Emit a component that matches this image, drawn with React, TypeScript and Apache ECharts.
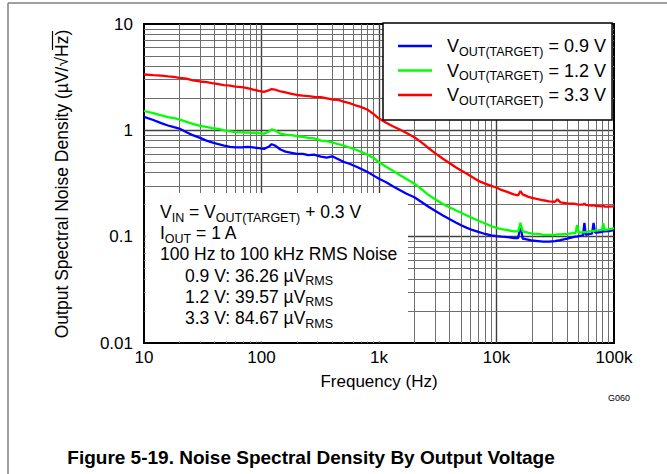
import React, { useEffect, useRef } from 'react';
import * as echarts from 'echarts';

// Frequency points (Hz) shared by all curves
const frequencies = [
  10, 12, 14, 16, 18, 20, 23, 26, 30, 34,
  38, 43, 48, 54, 60, 68, 76, 85, 95, 105,
  115, 122, 130, 145, 160, 180, 200, 225, 250, 280,
  320, 360, 400, 450, 500, 560, 630, 700, 800, 900,
  1000, 1150, 1300, 1500, 1700, 2000, 2300, 2600, 3000, 3500,
  4000, 4500, 5000, 5600, 6300, 7000, 8000, 9000, 10000, 11000,
  12500, 14000, 15300, 16000, 16700, 18500, 20000, 22500, 25000, 28000,
  31500, 33000, 35000, 40000, 45000, 47000, 48500, 50000, 54500, 56000,
  57500, 62000, 65000, 67000, 69000, 75000, 79000, 81000, 83000, 90000,
  100000,
];

// Noise density (uV/rtHz), VOUT(TARGET) = 0.9 V
const vout09 = [
  1.34, 1.25, 1.17, 1.11, 1.07, 1.04, 0.96, 0.9, 0.85, 0.8,
  0.77, 0.74, 0.72, 0.7, 0.69, 0.69, 0.7, 0.69, 0.68, 0.67,
  0.7, 0.74, 0.72, 0.66, 0.63, 0.615, 0.6, 0.6, 0.585, 0.59,
  0.565, 0.555, 0.57, 0.535, 0.505, 0.485, 0.46, 0.435, 0.405, 0.375,
  0.35, 0.325, 0.3, 0.275, 0.255, 0.235, 0.212, 0.193, 0.175, 0.158,
  0.146, 0.136, 0.128, 0.121, 0.115, 0.111, 0.106, 0.103, 0.101, 0.1,
  0.099, 0.097, 0.097, 0.129, 0.096, 0.094, 0.092, 0.091, 0.09, 0.09,
  0.091, 0.092, 0.093, 0.096, 0.099, 0.1, 0.1, 0.101, 0.103, 0.135,
  0.104, 0.106, 0.107, 0.135, 0.109, 0.11, 0.111, 0.112, 0.112, 0.113,
  0.115,
];

// VOUT(TARGET) = 1.2 V
const vout12 = [
  1.52, 1.45, 1.38, 1.33, 1.3, 1.27, 1.2, 1.15, 1.1, 1.08,
  1.05, 1.03, 1.0, 0.98, 0.96, 0.955, 0.95, 0.945, 0.94, 0.93,
  0.97, 1.02, 1.0, 0.93, 0.91, 0.9, 0.88, 0.87, 0.85, 0.84,
  0.8, 0.79, 0.77, 0.74, 0.72, 0.69, 0.66, 0.63, 0.59, 0.55,
  0.5, 0.455, 0.42, 0.38, 0.35, 0.315, 0.28, 0.25, 0.225, 0.203,
  0.188, 0.177, 0.168, 0.158, 0.149, 0.141, 0.133, 0.126, 0.121, 0.118,
  0.115, 0.112, 0.112, 0.135, 0.112, 0.109, 0.107, 0.106, 0.104, 0.104,
  0.104, 0.105, 0.105, 0.106, 0.108, 0.108, 0.129, 0.109, 0.11, 0.11,
  0.111, 0.112, 0.113, 0.113, 0.114, 0.115, 0.116, 0.134, 0.116, 0.117,
  0.12,
];

// VOUT(TARGET) = 3.3 V
const vout33 = [
  3.35, 3.3, 3.27, 3.22, 3.18, 3.12, 3.07, 2.95, 2.88, 2.84,
  2.78, 2.72, 2.66, 2.63, 2.58, 2.55, 2.5, 2.42, 2.35, 2.3,
  2.38, 2.44, 2.42, 2.32, 2.27, 2.2, 2.15, 2.12, 2.1, 2.06,
  2.05, 2.0, 1.95, 1.93, 1.86, 1.8, 1.72, 1.66, 1.56, 1.42,
  1.29, 1.18, 1.1, 1.02, 0.95, 0.86, 0.77, 0.69, 0.61, 0.54,
  0.49, 0.45, 0.42, 0.39, 0.36, 0.335, 0.315, 0.3, 0.29, 0.275,
  0.262, 0.25, 0.245, 0.268, 0.25, 0.238, 0.232, 0.226, 0.22, 0.215,
  0.213, 0.224, 0.21, 0.206, 0.204, 0.203, 0.201, 0.2, 0.2, 0.205,
  0.199, 0.197, 0.196, 0.198, 0.195, 0.194, 0.193, 0.195, 0.192, 0.192,
  0.193,
];

const seriesNames = ['VOUT(TARGET) = 0.9 V', 'VOUT(TARGET) = 1.2 V', 'VOUT(TARGET) = 3.3 V'];
const seriesColors = ['#0000ff', '#00ff00', '#ff0000'];
const seriesValues = [vout09, vout12, vout33];

const xTickLabels: Record<number, string> = { 1: '10', 2: '100', 3: '1k', 4: '10k', 5: '100k' };
const yTickLabels: Record<number, string> = { [-2]: '0.01', [-1]: '0.1', 0: '1', 1: '10' };

const gridDecadesX = [10, 100, 1000, 10000];
const gridDecadesY = [0.01, 0.1, 1];
const gridMultipliers = [2, 3, 4, 5, 6, 7, 8, 9];

const annotationLines = [
  '{m|V}{s|IN}{m| = V}{s|OUT(TARGET)}{m| + 0.3 V}',
  '{m|I}{s|OUT}{m| = 1 A}',
  '{m|100 Hz to 100 kHz RMS Noise}',
  '{m|0.9 V: 36.26 µV}{s|RMS}',
  '{m|1.2 V: 39.57 µV}{s|RMS}',
  '{m|3.3 V: 84.67 µV}{s|RMS}',
];
const annotationIndent = [0, 0, 0, 1, 1, 1];

const FONT = '"Liberation Sans", Arial, Helvetica, sans-serif';

export default function App() {
  const ref = useRef<HTMLDivElement>(null);

  useEffect(() => {
    const chart = echarts.init(ref.current!, null, { renderer: 'svg' });

    const minorStyle = { color: '#6e6e6e', width: 1, type: 'solid' as const };
    const minorX = gridDecadesX.flatMap((d) => gridMultipliers.map((m) => d * m));
    const minorY = gridDecadesY.flatMap((d) => gridMultipliers.map((m) => +(d * m).toPrecision(3)));
    const markData: any[] = [
      ...minorX.map((v) => ({ xAxis: v, lineStyle: minorStyle })),
      ...minorY.map((v) => ({ yAxis: v, lineStyle: minorStyle })),
    ];

    const richText = {
      m: { fontSize: 17.5, lineHeight: 20, fontFamily: FONT, color: '#000' },
      s: { fontSize: 12.5, lineHeight: 20, fontFamily: FONT, color: '#000', padding: [11, 0, 0, 0] },
    };
    const legendRich = {
      f: { fontSize: 18, lineHeight: 20.5, fontFamily: FONT, color: '#000', padding: [0, 0, 0, 10] },
      m: { fontSize: 18, lineHeight: 20.5, fontFamily: FONT, color: '#000' },
      s: { fontSize: 12.5, lineHeight: 20.5, fontFamily: FONT, color: '#000', padding: [11, 0, 0, 0] },
    };

    const series: any[] = seriesNames.map((name, k) => ({
      name,
      type: 'line',
      data: frequencies.map((f, i) => [f, seriesValues[k][i]]),
      showSymbol: false,
      symbol: 'none',
      color: seriesColors[k],
      lineStyle: { width: 2.3, color: seriesColors[k] },
      z: 3,
      ...(k === 0
        ? {
            markLine: {
              silent: true,
              symbol: ['none', 'none'],
              label: { show: false },
              z: 1,
              animation: false,
              data: markData,
            },
          }
        : {}),
    }));

    const graphics: any[] = [
      // outer figure frame
      { type: 'line', shape: { x1: 8, y1: 3, x2: 8, y2: 474 }, style: { stroke: '#808080', lineWidth: 1.5 } },
      { type: 'line', shape: { x1: 8, y1: 3, x2: 667, y2: 3 }, style: { stroke: '#808080', lineWidth: 1.5 } },
      // white annotation box covering the grid
      { type: 'rect', z: 2, shape: { x: 145.5, y: 193, width: 262.5, height: 148.5 }, style: { fill: '#fff' } },
      // y axis title
      {
        type: 'text',
        x: 62,
        y: 184,
        rotation: Math.PI / 2,
        style: {
          text: 'Output Spectral Noise Density (µV/√Hz)',
          fontFamily: FONT,
          fontSize: 17.5,
          fill: '#000',
          align: 'center',
          verticalAlign: 'middle',
        },
      },
      // overline of the square root
      { type: 'line', z: 5, shape: { x1: 52.5, y1: 31, x2: 52.5, y2: 50 }, style: { stroke: '#000', lineWidth: 1.2 } },
      // graph id
      {
        type: 'text',
        x: 619,
        y: 398,
        style: { text: 'G060', fontFamily: FONT, fontSize: 9, fill: '#000', align: 'center', verticalAlign: 'middle' },
      },
      // caption
      {
        type: 'text',
        x: 311,
        y: 457,
        style: {
          text: 'Figure 5-19. Noise Spectral Density By Output Voltage',
          fontFamily: FONT,
          fontSize: 19,
          fontWeight: 'bold',
          fill: '#000',
          align: 'center',
          verticalAlign: 'middle',
        },
      },
      ...annotationLines.map((t, i) => ({
        type: 'text',
        z: 4,
        x: 160 + annotationIndent[i] * 25,
        y: 212 + i * 21.2,
        style: { text: t, rich: richText, fontFamily: FONT, fontSize: 17.5, fill: '#000', verticalAlign: 'middle' },
      })),
    ];

    chart.setOption({
      animation: false,
      backgroundColor: '#fff',
      grid: {
        left: 144,
        right: 53,
        top: 24,
        bottom: 131,
        show: true,
        borderColor: '#000',
        borderWidth: 2,
        backgroundColor: 'transparent',
      },
      legend: {
        data: seriesNames,
        orient: 'vertical',
        left: 383,
        top: 23,
        padding: [11, 6, 13, 15],
        itemGap: 0.5,
        itemWidth: 34,
        itemHeight: 2.5,
        icon: 'rect',
        selectedMode: false,
        backgroundColor: '#fff',
        borderColor: '#000',
        borderWidth: 1.5,
        borderRadius: 0,
        formatter: (name: string) => `{f|V}{s|OUT(TARGET)}{m| = ${name.split('= ')[1]}}`,
        textStyle: { fontFamily: FONT, fontSize: 18, color: '#000', rich: legendRich },
      },
      xAxis: {
        type: 'log',
        logBase: 10,
        min: 10,
        max: 100000,
        name: 'Frequency (Hz)',
        nameLocation: 'middle',
        nameGap: 30,
        nameTextStyle: { fontFamily: FONT, fontSize: 17, color: '#000' },
        axisLine: { show: false },
        axisTick: { show: false },
        axisLabel: {
          fontFamily: FONT,
          fontSize: 17,
          color: '#000',
          margin: 6,
          formatter: (v: number) => xTickLabels[Math.round(Math.log10(v))] ?? '',
        },
        splitLine: { show: true, showMinLine: false, showMaxLine: false, lineStyle: { color: '#404040', width: 1.4 } },
      },
      yAxis: {
        type: 'log',
        logBase: 10,
        min: 0.01,
        max: 10,
        axisLine: { show: false },
        axisTick: { show: false },
        axisLabel: {
          fontFamily: FONT,
          fontSize: 17,
          color: '#000',
          margin: 11,
          formatter: (v: number) => yTickLabels[Math.round(Math.log10(v))] ?? '',
        },
        splitLine: { show: true, showMinLine: false, showMaxLine: false, lineStyle: { color: '#404040', width: 1.4 } },
      },
      series,
      graphic: graphics,
    });

    return () => chart.dispose();
  }, []);

  return <div ref={ref} style={{ position: 'absolute', left: 0, top: 0, width: 667, height: 474 }} />;
}
